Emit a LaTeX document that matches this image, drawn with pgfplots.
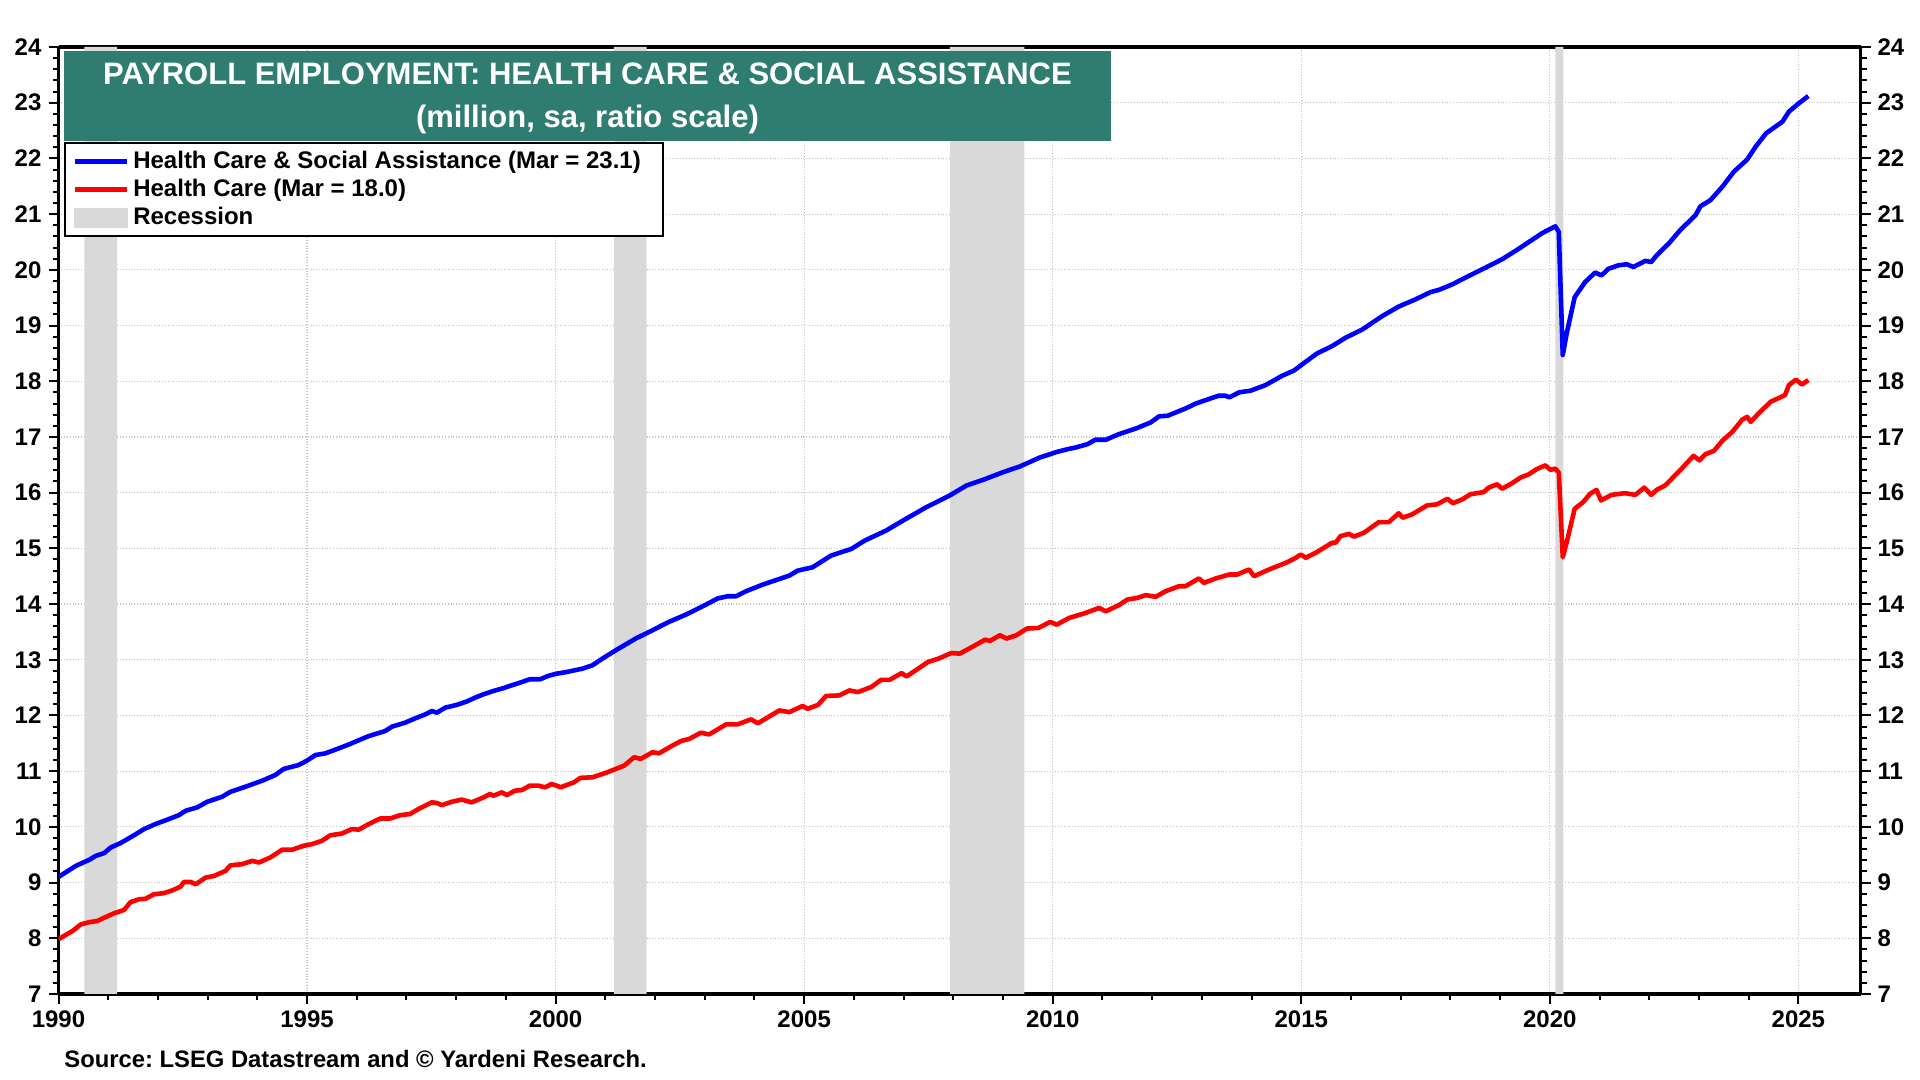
\documentclass[border=0pt]{standalone}
\usepackage{fontspec}
\setmainfont{Liberation Sans}
\usepackage{pgfplots}
\pgfplotsset{compat=1.18}
\frenchspacing
\definecolor{titlegreen}{RGB}{46,125,112}
\definecolor{recgray}{RGB}{217,217,217}
\definecolor{gridgray}{RGB}{195,195,195}
\begin{document}
\begin{tikzpicture}
\useasboundingbox (0,0) rectangle (960pt,540pt);
\begin{axis}[
  at={(29.25pt,43pt)}, anchor=south west,
  scale only axis, width=901pt, height=473.5pt,
  xmin=1990, xmax=2026.25, ymin=7, ymax=24,
  xtick={1990,1995,...,2025}, minor x tick num=4,
  ytick={7,8,...,24}, minor y tick num=4,
  xtick pos=bottom, ytick pos=left,
  tick align=outside,
  major tick length=5pt, minor tick length=3pt,
  separate axis lines,
  axis line style={line width=1.7pt, black},
  every tick/.style={black, line width=1pt},
  grid=major,
  major grid style={densely dotted, gridgray, line width=0.6pt},
  tick label style={font=\fontsize{12}{14}\selectfont\bfseries},
  /pgf/number format/assume math mode=true,
  /pgf/number format/1000 sep={},
  legend image code/.code={\draw[#1] (0pt,0pt) -- (26pt,0pt);},
  legend style={at={(0.003,0.8995)}, anchor=north west, draw=black, line width=1pt,
    fill=white, font=\fontsize{12}{14}\selectfont\bfseries,
    inner xsep=4pt, inner ysep=2.2pt, nodes={inner sep=1.9pt}, row sep=0pt},
  legend cell align=left,
]
% recessions
\addplot[forget plot, fill=recgray, draw=none] coordinates {(1990.52,7) (1990.52,24) (1991.18,24) (1991.18,7)} \closedcycle;
\addplot[forget plot, fill=recgray, draw=none] coordinates {(2001.17,7) (2001.17,24) (2001.83,24) (2001.83,7)} \closedcycle;
\addplot[forget plot, fill=recgray, draw=none] coordinates {(2007.93,7) (2007.93,24) (2009.43,24) (2009.43,7)} \closedcycle;
\addplot[forget plot, fill=recgray, draw=none] coordinates {(2020.11,7) (2020.11,24) (2020.27,24) (2020.27,7)} \closedcycle;
% Health care & social assistance
\addplot[blue, line width=2.3pt, line join=round] table {
1990.00 9.10
1990.05 9.13
1990.35 9.30
1990.62 9.41
1990.75 9.48
1990.92 9.53
1991.05 9.63
1991.25 9.71
1991.52 9.85
1991.72 9.96
1991.95 10.05
1992.22 10.14
1992.42 10.21
1992.56 10.29
1992.79 10.35
1992.99 10.45
1993.29 10.54
1993.46 10.63
1993.76 10.72
1994.10 10.83
1994.36 10.93
1994.53 11.04
1994.83 11.11
1995.00 11.19
1995.17 11.29
1995.37 11.32
1995.64 11.41
1995.87 11.49
1996.00 11.54
1996.24 11.63
1996.57 11.72
1996.71 11.80
1996.97 11.87
1997.18 11.95
1997.38 12.02
1997.51 12.08
1997.61 12.05
1997.78 12.14
1998.01 12.19
1998.21 12.25
1998.38 12.32
1998.55 12.38
1998.75 12.44
1998.95 12.49
1999.08 12.53
1999.32 12.60
1999.48 12.65
1999.69 12.65
1999.85 12.71
2000.02 12.75
2000.22 12.78
2000.54 12.84
2000.74 12.90
2000.94 13.02
2001.21 13.17
2001.61 13.38
2001.95 13.53
2002.28 13.68
2002.62 13.81
2002.96 13.96
2003.26 14.10
2003.46 14.14
2003.63 14.14
2003.83 14.23
2004.17 14.35
2004.70 14.51
2004.87 14.60
2005.17 14.66
2005.54 14.87
2005.95 14.99
2006.22 15.14
2006.65 15.32
2006.99 15.50
2007.46 15.74
2007.93 15.95
2008.27 16.13
2008.60 16.23
2009.01 16.37
2009.34 16.47
2009.74 16.63
2010.08 16.73
2010.30 16.78
2010.46 16.81
2010.70 16.87
2010.86 16.95
2011.07 16.95
2011.33 17.05
2011.67 17.15
2011.97 17.26
2012.14 17.37
2012.31 17.38
2012.67 17.51
2012.88 17.60
2013.14 17.68
2013.34 17.74
2013.48 17.74
2013.55 17.71
2013.75 17.80
2013.98 17.83
2014.28 17.93
2014.62 18.10
2014.85 18.19
2015.09 18.35
2015.32 18.50
2015.62 18.63
2015.89 18.78
2016.23 18.93
2016.63 19.17
2016.96 19.34
2017.30 19.47
2017.60 19.60
2017.77 19.64
2018.04 19.74
2018.37 19.89
2018.71 20.04
2019.04 20.19
2019.31 20.34
2019.58 20.50
2019.85 20.66
2020.11 20.78
2020.18 20.68
2020.26 18.47
2020.34 18.86
2020.50 19.51
2020.71 19.78
2020.91 19.95
2021.04 19.90
2021.18 20.02
2021.38 20.08
2021.55 20.10
2021.68 20.05
2021.92 20.16
2022.04 20.14
2022.15 20.26
2022.39 20.47
2022.62 20.71
2022.93 20.98
2023.03 21.14
2023.23 21.25
2023.47 21.49
2023.70 21.76
2023.97 21.98
2024.14 22.21
2024.35 22.45
2024.68 22.66
2024.81 22.84
2025.01 22.99
2025.20 23.12
};
\addlegendentry{Health Care \& Social Assistance (Mar = 23.1)\hspace*{5pt}}
% Health care
\addplot[red, line width=2.3pt, line join=round] table {
1990.00 7.98
1990.05 8.01
1990.28 8.13
1990.45 8.25
1990.62 8.29
1990.78 8.31
1990.92 8.37
1991.12 8.45
1991.32 8.51
1991.45 8.65
1991.62 8.70
1991.75 8.71
1991.92 8.79
1992.12 8.81
1992.29 8.86
1992.46 8.93
1992.52 9.01
1992.66 9.01
1992.76 8.97
1992.96 9.09
1993.13 9.12
1993.36 9.21
1993.46 9.31
1993.69 9.33
1993.90 9.39
1994.03 9.36
1994.26 9.45
1994.50 9.59
1994.70 9.59
1994.93 9.66
1995.10 9.69
1995.30 9.75
1995.47 9.85
1995.70 9.88
1995.90 9.96
1996.04 9.95
1996.24 10.05
1996.47 10.15
1996.67 10.15
1996.87 10.21
1997.07 10.23
1997.24 10.32
1997.51 10.44
1997.61 10.43
1997.71 10.39
1997.91 10.45
1998.11 10.49
1998.31 10.44
1998.55 10.53
1998.68 10.59
1998.75 10.56
1998.92 10.62
1999.02 10.57
1999.18 10.65
1999.32 10.66
1999.48 10.74
1999.65 10.74
1999.79 10.71
1999.92 10.77
2000.05 10.73
2000.10 10.71
2000.37 10.80
2000.50 10.88
2000.74 10.89
2001.01 10.97
2001.21 11.04
2001.38 11.10
2001.58 11.25
2001.71 11.22
2001.95 11.34
2002.08 11.32
2002.35 11.46
2002.52 11.54
2002.69 11.58
2002.92 11.69
2003.09 11.66
2003.43 11.84
2003.66 11.84
2003.93 11.93
2004.07 11.86
2004.50 12.09
2004.70 12.06
2004.97 12.17
2005.07 12.12
2005.28 12.19
2005.44 12.35
2005.71 12.36
2005.91 12.45
2006.08 12.42
2006.35 12.51
2006.55 12.64
2006.72 12.64
2006.96 12.76
2007.06 12.70
2007.26 12.82
2007.49 12.96
2007.70 13.02
2007.96 13.12
2008.13 13.11
2008.40 13.24
2008.64 13.36
2008.74 13.34
2008.94 13.44
2009.07 13.38
2009.27 13.44
2009.48 13.56
2009.71 13.57
2009.95 13.68
2010.08 13.63
2010.33 13.75
2010.66 13.84
2010.93 13.93
2011.07 13.87
2011.33 13.98
2011.50 14.08
2011.70 14.11
2011.87 14.16
2012.07 14.13
2012.27 14.23
2012.54 14.32
2012.67 14.32
2012.94 14.46
2013.04 14.38
2013.28 14.46
2013.55 14.53
2013.71 14.53
2013.95 14.62
2014.05 14.50
2014.35 14.62
2014.69 14.74
2014.89 14.83
2014.99 14.89
2015.09 14.83
2015.29 14.92
2015.62 15.10
2015.69 15.10
2015.79 15.22
2015.96 15.26
2016.06 15.21
2016.26 15.28
2016.56 15.47
2016.76 15.47
2016.96 15.63
2017.04 15.55
2017.23 15.61
2017.53 15.77
2017.73 15.79
2017.94 15.89
2018.05 15.81
2018.24 15.88
2018.40 15.97
2018.67 16.01
2018.77 16.09
2018.94 16.15
2019.04 16.07
2019.24 16.17
2019.41 16.27
2019.58 16.33
2019.73 16.42
2019.91 16.49
2020.01 16.41
2020.11 16.43
2020.18 16.36
2020.26 14.84
2020.34 15.11
2020.50 15.71
2020.67 15.83
2020.81 15.98
2020.94 16.05
2021.03 15.86
2021.24 15.96
2021.51 15.99
2021.72 15.96
2021.90 16.09
2022.04 15.96
2022.15 16.05
2022.32 16.13
2022.62 16.40
2022.89 16.66
2023.01 16.58
2023.13 16.69
2023.30 16.75
2023.47 16.93
2023.67 17.09
2023.87 17.31
2023.97 17.36
2024.04 17.27
2024.21 17.43
2024.44 17.63
2024.73 17.75
2024.81 17.93
2024.95 18.03
2025.07 17.94
2025.20 18.02
};
\addlegendentry{Health Care (Mar = 18.0)}
\addlegendimage{legend image code/.code={\fill[recgray] (0pt,-4.5pt) rectangle (26pt,4.5pt);}}
\addlegendentry{Recession}
\node[anchor=north west, fill=titlegreen, minimum width=523.5pt,
  minimum height=45pt, inner sep=0pt]
  at ([xshift=2.75pt, yshift=-2pt]rel axis cs:0,1) {};
\node[anchor=center, text=white, inner sep=0pt, align=center,
  font=\fontsize{15.5}{21.3}\selectfont\bfseries]
  at ([xshift=264.5pt, yshift=-25.8pt]rel axis cs:0,1)
  {PAYROLL EMPLOYMENT: HEALTH CARE \& SOCIAL ASSISTANCE\\(million, sa, ratio scale)};
\end{axis}
\begin{axis}[
  at={(29.25pt,43pt)}, anchor=south west,
  scale only axis, width=901pt, height=473.5pt,
  xmin=1990, xmax=2026.25, ymin=7, ymax=24,
  hide x axis,
  axis y line*=right,
  ytick={7,8,...,24}, minor y tick num=4,
  tick align=outside,
  major tick length=5pt, minor tick length=3pt,
  axis line style={line width=1.7pt, black},
  every tick/.style={black, line width=1pt},
  tick label style={font=\fontsize{12}{14}\selectfont\bfseries},
  /pgf/number format/assume math mode=true,
]
\addplot[draw=none] coordinates {(1990,7)};
\end{axis}
\node[anchor=west, inner sep=0pt, font=\fontsize{11.9}{14}\selectfont\bfseries] at (32pt,10.5pt)
  {Source: LSEG Datastream and © Yardeni Research.};
\end{tikzpicture}
\end{document}
